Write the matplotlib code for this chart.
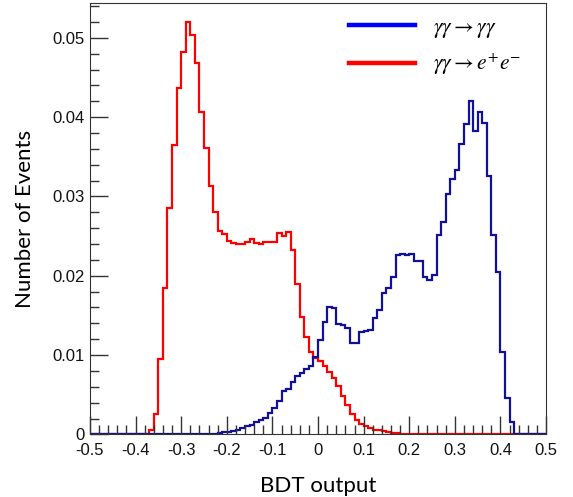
import numpy as np
import matplotlib.pyplot as plt
from matplotlib.lines import Line2D
from matplotlib.ticker import MultipleLocator

plt.rcParams['mathtext.fontset'] = 'stix'

# BDT output histograms, 100 bins from -0.5 to 0.5
bin_edges = np.linspace(-0.5, 0.5, 101)

ee_vals = [0.0] * 13 + [
    0.0006, 0.0026, 0.0095, 0.0184, 0.0285, 0.0365, 0.0437, 0.0482, 0.0520, 0.0504,
    0.0468, 0.0407, 0.0361, 0.0313, 0.0280, 0.0257, 0.0253, 0.0244, 0.0241, 0.0240,
    0.0240, 0.0243, 0.0247, 0.0241, 0.0240, 0.0243, 0.0242, 0.0242, 0.0254, 0.0250,
    0.0255, 0.0232, 0.0189, 0.0148, 0.0123, 0.0104, 0.0096, 0.0092, 0.0086, 0.0079,
    0.0071, 0.0061, 0.0049, 0.0037, 0.0026, 0.0018, 0.0013, 0.0010, 0.0008, 0.0006,
    0.0005, 0.0004, 0.0003, 0.0002, 0.0002, 0.0001, 0.0001,
] + [0.0] * 30

gg_vals = [0.0] * 26 + [
    0.0001, 0.0001, 0.0002, 0.0003, 0.0003, 0.0004, 0.0006, 0.0008, 0.0010, 0.0012,
    0.0015, 0.0018, 0.0021, 0.0027, 0.0033, 0.0042, 0.0055, 0.0057, 0.0066, 0.0073,
    0.0078, 0.0083, 0.0086, 0.0098, 0.0119, 0.0142, 0.0160, 0.0159, 0.0139, 0.0138,
    0.0134, 0.0115, 0.0115, 0.0129, 0.0130, 0.0131, 0.0147, 0.0157, 0.0178, 0.0185,
    0.0198, 0.0226, 0.0228, 0.0226, 0.0227, 0.0219, 0.0219, 0.0198, 0.0195, 0.0201,
    0.0252, 0.0268, 0.0303, 0.0322, 0.0333, 0.0366, 0.0392, 0.0420, 0.0382, 0.0407,
    0.0393, 0.0326, 0.0251, 0.0205, 0.0104, 0.0046, 0.0016,
] + [0.0] * 7

labels = [r'$\gamma\gamma \rightarrow \gamma\gamma$', r'$\gamma\gamma \rightarrow e^{+}e^{-}$']

xticks = [-0.5, -0.4, -0.3, -0.2, -0.1, 0.0, 0.1, 0.2, 0.3, 0.4, 0.5]
xtick_labels = ['-0.5', '-0.4', '-0.3', '-0.2', '-0.1', '0', '0.1', '0.2', '0.3', '0.4', '0.5']
yticks = [0.0, 0.01, 0.02, 0.03, 0.04, 0.05]
ytick_labels = ['0', '0.01', '0.02', '0.03', '0.04', '0.05']

fig = plt.figure(figsize=(5.73, 4.97), dpi=100)
ax = fig.add_axes([0.157, 0.126, 0.796, 0.868])

ax.stairs(ee_vals, bin_edges, color='#ff0000', lw=1.6, baseline=None)
ax.stairs(gg_vals, bin_edges, color='#10109a', lw=1.6, baseline=None)

ax.set_xlim(-0.5, 0.5)
ax.set_ylim(0, 0.0544)

ax.set_xticks(xticks, xtick_labels, family='Liberation Sans')
ax.set_yticks(yticks, ytick_labels, family='Liberation Sans')
ax.xaxis.set_minor_locator(MultipleLocator(0.02))
ax.yaxis.set_minor_locator(MultipleLocator(0.002))
ax.tick_params(which='both', direction='in', width=1, color='#333333',
               labelsize=12, labelcolor='#111111')
ax.tick_params(which='major', length=13)
ax.tick_params(which='minor', length=6.5)
ax.tick_params(axis='x', pad=6)
ax.tick_params(axis='y', pad=4)
for sp in ax.spines.values():
    sp.set_color('#333333')

ax.set_xlabel('BDT output', family='Lato', fontsize=16, labelpad=13)
ax.set_ylabel('Number of Events', family='Lato', fontsize=16, labelpad=12)

handles = [Line2D([], [], color='#0000ff', lw=3.2), Line2D([], [], color='#ff0000', lw=3.2)]
ax.legend(handles, labels, loc='upper left', bbox_to_anchor=(0.549, 0.9875), borderaxespad=0,
          frameon=False, fontsize=15.5, handlelength=3.07, handletextpad=0.84, labelspacing=0.55)

fig.savefig('out.png', dpi=100)
